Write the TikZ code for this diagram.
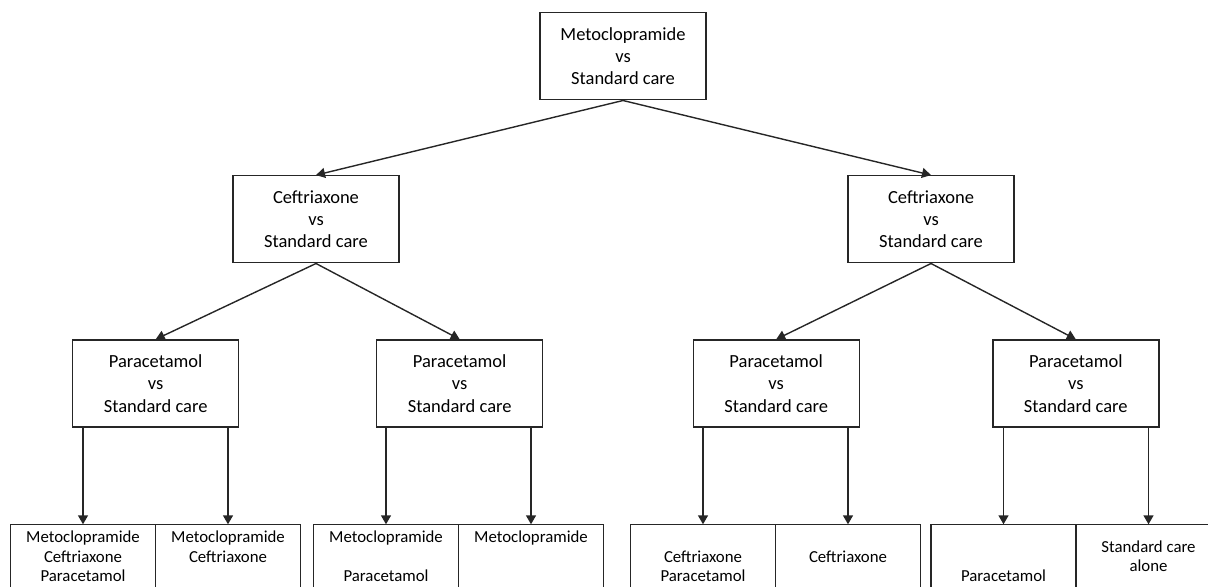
\documentclass[tikz,border=0pt]{standalone}
\usepackage{fontspec}
\setmainfont{Carlito}
\usetikzlibrary{positioning, arrows.meta}

\begin{document}
\begin{tikzpicture} [x = 0.5pt, y = -0.5pt,
  box/.style = {draw = black!85, line width = 0.7pt, minimum width = 83pt, minimum height = 43.5pt, align = center, font = \fontsize{9.25}{11.1}\selectfont},
  cell/.style = {draw = black!85, line width = 0.7pt, outer sep = 0pt, inner sep = 0pt, minimum width = 72.5pt, minimum height = 34pt, align = center, font = \fontsize{8.4}{9.75}\selectfont},
  arr/.style = {draw = black!85, line width = 0.7pt, -{Triangle[length = 4.5pt, width = 5pt]}}]
\useasboundingbox (0,0) rectangle (1208,587);
\node[box] (top) at (623,56.3) {Metoclopramide\\vs\\Standard care};
\node[box] (ca) at (316,219.3) {Ceftriaxone\\vs\\Standard care};
\node[box] (cb) at (931,219.3) {Ceftriaxone\\vs\\Standard care};
\node[box] (pa) at (155.7,383.5) {Paracetamol\\vs\\Standard care};
\node[box] (pb) at (459.7,383.5) {Paracetamol\\vs\\Standard care};
\node[box] (pc) at (776.2,383.5) {Paracetamol\\vs\\Standard care};
\node[box] (pd) at (1075.8,383.5) {Paracetamol\\vs\\Standard care};
% regimens, cut off at the bottom edge
\node[cell] (ra) at (83,558.3) {\strut Metoclopramide\\\strut Ceftriaxone\\\strut Paracetamol};
\node[cell, right = 0pt of ra] (rb) {\strut Metoclopramide\\\strut Ceftriaxone\\\strut};
\node[cell] (rc) at (386,558.3) {\strut Metoclopramide\\\strut\\\strut Paracetamol};
\node[cell, right = 0pt of rc] (rd) {\strut Metoclopramide\\\strut\\\strut};
\node[cell] (re) at (703,558.3) {\strut\\\strut Ceftriaxone\\\strut Paracetamol};
\node[cell, right = 0pt of re] (rf) {\strut Ceftriaxone};
\node[cell] (rg) at (1003.5,558.3) {\strut\\\strut\\\strut Paracetamol};
\node[cell, right = 0pt of rg] (rh) {\strut Standard care\\\strut alone};
\draw[arr] (top.south) -- (ca.north);
\draw[arr] (top.south) -- (cb.north);
\draw[arr] (ca.south) -- (pa.north);
\draw[arr] (ca.south) -- (pb.north);
\draw[arr] (cb.south) -- (pc.north);
\draw[arr] (cb.south) -- (pd.north);
\draw[arr] (ra.north |- pa.south) -- (ra.north);
\draw[arr] (rb.north |- pa.south) -- (rb.north);
\draw[arr] (rc.north |- pb.south) -- (rc.north);
\draw[arr] (rd.north |- pb.south) -- (rd.north);
\draw[arr] (re.north |- pc.south) -- (re.north);
\draw[arr] (rf.north |- pc.south) -- (rf.north);
\draw[arr] (rg.north |- pd.south) -- (rg.north);
\draw[arr] (rh.north |- pd.south) -- (rh.north);
\end{tikzpicture}
\end{document}
